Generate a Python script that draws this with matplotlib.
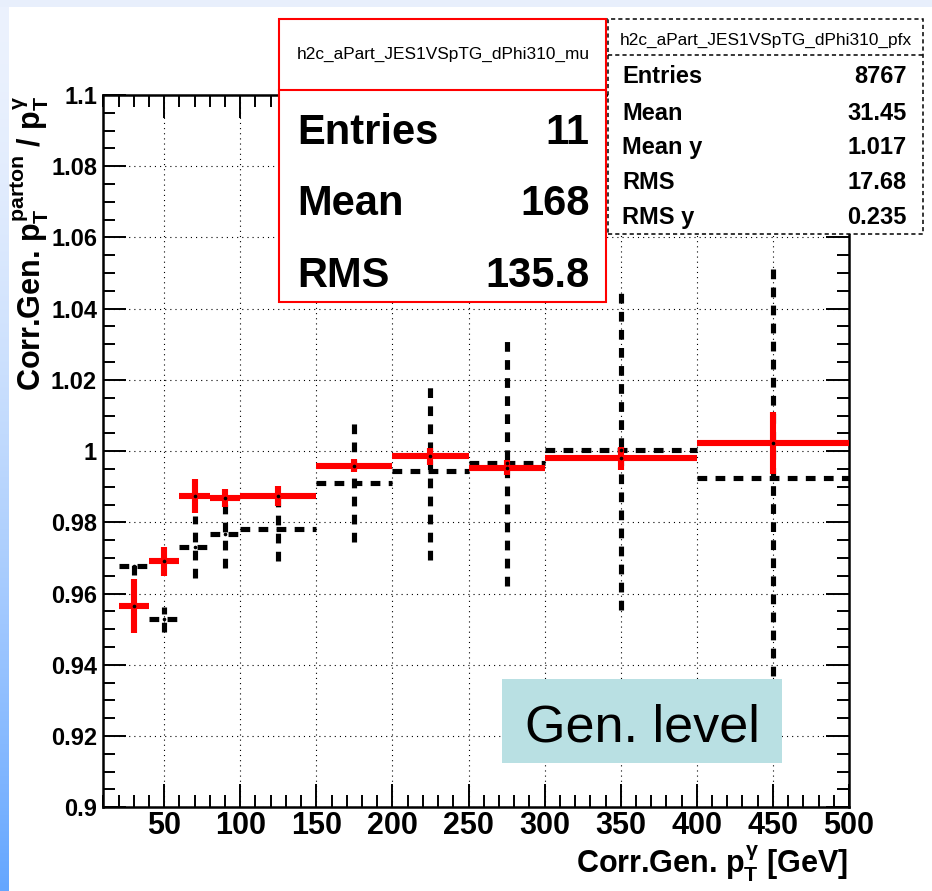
import numpy as np
import matplotlib
matplotlib.use("Agg")
import matplotlib.pyplot as plt
from matplotlib.patches import Rectangle
from matplotlib.ticker import MultipleLocator, FixedLocator

# ---------------- data ----------------
bin_centers = [30, 50, 70, 90, 125, 175, 225, 275, 350, 450]
bin_halfwidths = [10, 10, 10, 10, 25, 25, 25, 25, 50, 50]

mu_values = [0.9565, 0.9691, 0.9874, 0.9868, 0.9874, 0.9959, 0.9985, 0.9953, 0.9980, 1.0023]
mu_errors = [0.0077, 0.0041, 0.0049, 0.0026, 0.0027, 0.0018, 0.0024, 0.0021, 0.0033, 0.0088]

pfx_values = [0.9677, 0.9528, 0.9730, 0.9767, 0.9781, 0.9911, 0.9943, 0.9967, 1.0002, 0.9926]
pfx_errors = [0.0024, 0.0035, 0.0087, 0.0094, 0.0089, 0.0167, 0.0248, 0.0345, 0.0448, 0.0608]

x_ticks = [50, 100, 150, 200, 250, 300, 350, 400, 450, 500]
x_tick_labels = ["50", "100", "150", "200", "250", "300", "350", "400", "450", "500"]
y_ticks = [0.90, 0.92, 0.94, 0.96, 0.98, 1.00, 1.02, 1.04, 1.06, 1.08, 1.10]
y_tick_labels = ["0.9", "0.92", "0.94", "0.96", "0.98", "1", "1.02", "1.04", "1.06", "1.08", "1.1"]

mu_title = "h2c_aPart_JES1VSpTG_dPhi310_mu"
mu_stats = [("Entries", "11"), ("Mean", "168"), ("RMS", "135.8")]
pfx_title = "h2c_aPart_JES1VSpTG_dPhi310_pfx"
pfx_stats = [("Entries", "8767"), ("Mean", "31.45"), ("Mean y", "1.017"),
             ("RMS", "17.68"), ("RMS y", "0.235")]

x_label = r"Corr.Gen. $p_{T}^{\gamma}$ [GeV]"
y_label = r"Corr.Gen. $p_{T}^{parton}$ / $p_{T}^{\gamma}$"
note_text = "Gen. level"

# ---------------- style ----------------
plt.rcParams["font.family"] = ["Liberation Sans", "DejaVu Sans"]
plt.rcParams["mathtext.fontset"] = "custom"
for k in ("rm", "it", "bf", "sf"):
    plt.rcParams["mathtext." + k] = "Liberation Sans:bold"
plt.rcParams["lines.scale_dashes"] = False

W, H = 932, 891
fig = plt.figure(figsize=(W / 100, H / 100), dpi=100)
fig.patch.set_facecolor("white")


def fx(x):
    return x / W


def fy(y):
    return 1 - y / H


# background slide decoration (left gradient strip and top pale strip)
bg = np.ones((H, W, 3))
pale = np.array([236, 242, 253]) / 255.0
blue = np.array([100, 166, 255]) / 255.0
t = (np.arange(H) / (H - 1)) ** 1.6
strip = pale[None, :] + (blue - pale)[None, :] * t[:, None]
bg[:, :9, :] = strip[:, None, :]
bg[:7, :, :] = np.array([232, 239, 252]) / 255.0
ax_bg = fig.add_axes([0, 0, 1, 1], zorder=-10)
ax_bg.imshow(bg, extent=[0, W, H, 0], aspect="auto", interpolation="nearest")
ax_bg.set_xlim(0, W)
ax_bg.set_ylim(H, 0)
ax_bg.axis("off")

# main axes
left_px, right_px, top_px, bottom_px = 103.3, 849.0, 95.0, 807.3
ax = fig.add_axes([fx(left_px), fy(bottom_px), fx(right_px - left_px), (bottom_px - top_px) / H])
ax.set_facecolor("white")
ax.set_xlim(10, 500)
ax.set_ylim(0.9, 1.1)

for s in ax.spines.values():
    s.set_linewidth(1.8)
    s.set_color("black")

ax.xaxis.set_major_locator(FixedLocator(x_ticks))
ax.set_xticklabels(x_tick_labels)
ax.xaxis.set_minor_locator(MultipleLocator(10))
ax.yaxis.set_major_locator(FixedLocator(y_ticks))
ax.set_yticklabels(y_tick_labels)
ax.yaxis.set_minor_locator(MultipleLocator(0.005))

ax.tick_params(which="both", direction="in", top=True, right=True, width=1.4, color="black")
ax.tick_params(which="major", length=16.5)
ax.tick_params(which="minor", length=8.6)
ax.tick_params(axis="x", which="major", labelsize=22, pad=3)
ax.tick_params(axis="y", which="major", labelsize=17, pad=4.5)
for lab in ax.get_xticklabels() + ax.get_yticklabels():
    lab.set_fontweight("bold")

ax.grid(which="major", color="black", linewidth=0.8, linestyle=(0, (0.8, 2.9)))
ax.set_axisbelow(True)

# profile (black dashed)
eb_pfx = ax.errorbar(bin_centers, pfx_values, xerr=bin_halfwidths, yerr=pfx_errors,
                     fmt="none", ecolor="black", elinewidth=3.7, capsize=0, zorder=3)
for lc in eb_pfx[2]:
    lc.set_linestyle((0, (7.0, 6.0)))
    lc.set_capstyle("butt")

# mu (red)
eb_mu = ax.errorbar(bin_centers, mu_values, xerr=bin_halfwidths, yerr=mu_errors,
                    fmt="none", ecolor="#ff0000", elinewidth=4.4, capsize=0, zorder=4)
for lc in eb_mu[2]:
    lc.set_capstyle("butt")

ax.plot(bin_centers, pfx_values, "o", ms=1.6, color="black", zorder=5)
ax.plot(bin_centers, mu_values, "o", ms=1.6, color="black", zorder=5)

# axis titles
fig.text(fx(848), fy(874), x_label, ha="right", va="baseline", fontsize=22, fontweight="bold")
fig.text(fx(41), fy(95), y_label, rotation=90, rotation_mode="anchor",
         ha="right", va="baseline", fontsize=22, fontweight="bold")

# red stats box
fig.add_artist(Rectangle((fx(279.3), fy(301.8)), fx(606.4 - 279.3), (301.8 - 19) / H,
                         transform=fig.transFigure, facecolor="white", edgecolor="#ff0000",
                         linewidth=1.5, zorder=2))
fig.add_artist(plt.Line2D([fx(279.3), fx(606.4)], [fy(90), fy(90)], transform=fig.transFigure,
                          color="#ff0000", linewidth=1.5, zorder=3))
fig.text(fx(442.8), fy(54.5), mu_title, ha="center", va="center", fontsize=12.4, zorder=4)
for (lab, val), base in zip(mu_stats, [143.5, 215.3, 287.0]):
    fig.text(fx(297.4), fy(base), lab, ha="left", va="baseline", fontsize=30, fontweight="bold", zorder=4)
    fig.text(fx(589.5), fy(base), val, ha="right", va="baseline", fontsize=30, fontweight="bold", zorder=4)

# black dashed stats box
fig.add_artist(Rectangle((fx(607.7), fy(234)), fx(923.4 - 607.7), (234 - 19) / H,
                         transform=fig.transFigure, facecolor="white", edgecolor="black",
                         linewidth=1.1, linestyle=(0, (3.0, 2.2)), zorder=2))
fig.add_artist(plt.Line2D([fx(607.7), fx(923.4)], [fy(55), fy(55)], transform=fig.transFigure,
                          color="black", linewidth=1.1, linestyle=(0, (3.0, 2.2)), zorder=3))
fig.text(fx(765.5), fy(40), pfx_title, ha="center", va="center", fontsize=12.4, zorder=4)
for (lab, val), base in zip(pfx_stats, [83.0, 119.5, 154.0, 188.7, 223.7]):
    fig.text(fx(622.5), fy(base), lab, ha="left", va="baseline", fontsize=17, fontweight="bold", zorder=4)
    fig.text(fx(906.6), fy(base), val, ha="right", va="baseline", fontsize=17, fontweight="bold", zorder=4)

# Gen. level label
fig.add_artist(Rectangle((fx(502), fy(763)), fx(782 - 502), (763 - 679) / H,
                         transform=fig.transFigure, facecolor="#b9e0e3", edgecolor="none", zorder=2))
fig.text(fx(642), fy(742), note_text, ha="center", va="baseline", fontsize=37.5, zorder=4)

fig.savefig("out.png", dpi=100)
